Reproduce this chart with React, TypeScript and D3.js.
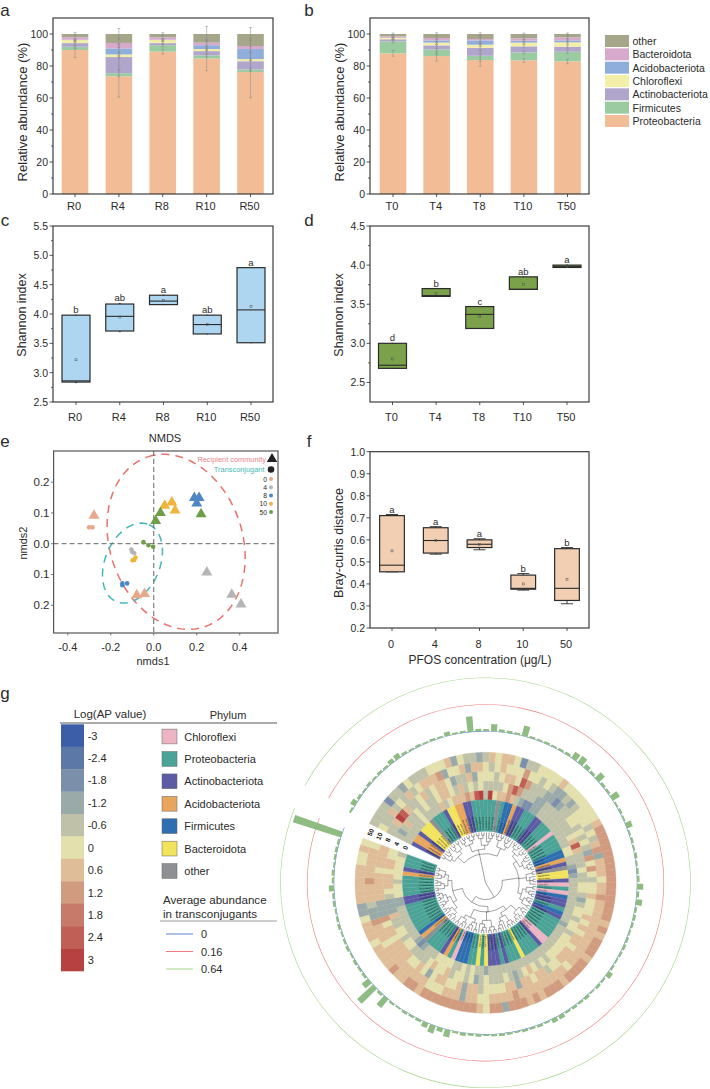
import React from "react";
import * as d3 from "d3";

const FONT = "'Liberation Sans', Arial, sans-serif";
const INK = "#2b2b2b";

// a, b: stacked composition
const phylaStack = ["Proteobacteria", "Firmicutes", "Actinobacteriota", "Chloroflexi", "Acidobacteriota", "Bacteroidota", "other"];
const stackColors = ["#f2bd96", "#9bcba0", "#b0a5cb", "#f4efa6", "#90aedb", "#d7aacd", "#a5a68a"];

const groupsR = ["R0", "R4", "R8", "R10", "R50"];
const proteoR = [90, 73.6, 89, 84.7, 76.2];
const firmiR = [2, 1.9, 4, 1.9, 1.6];
const actinoR = [2.3, 10.1, 1.3, 2.7, 5.2];
const chloroR = [1.9, 1.6, 1.9, 1.3, 1.3];
const acidoR = [0.2, 3.8, 0.2, 2.4, 6.3];
const bacteR = [1.6, 3.4, 1.5, 1.6, 1.9];
const otherR = [2, 5.6, 2.1, 5.4, 7.5];
const errR = [
  [4.7, 13, 1.5, 7.7, 16],
  [1, 2, 1, 1, 1],
  [1.5, 8, 1, 1.5, 5.5],
  [0.8, 1.6, 0.8, 1, 0.8],
  [0.5, 3, 0.5, 3, 7],
  [1.5, 3, 1, 2, 4],
  [1, 3.4, 0.8, 4.8, 4],
];

const groupsT = ["T0", "T4", "T8", "T10", "T50"];
const proteoT = [87.9, 86.2, 83.7, 83.5, 82.9];
const firmiT = [7.5, 4.2, 2.7, 5, 6];
const actinoT = [1.3, 2.5, 5, 3.8, 3.2];
const chloroT = [0.8, 1.7, 1.9, 2.3, 2.7];
const acidoT = [0.2, 1.4, 2.7, 1.2, 1.2];
const bacteT = [0.8, 1.5, 0.9, 1.5, 1.9];
const otherT = [1.5, 2.5, 3.1, 2.7, 2.1];
const errT = [
  [1.8, 3, 3.8, 1.2, 1.5],
  [1, 3, 3.5, 1, 1],
  [1, 2, 2, 1, 1],
  [0.8, 1, 1, 0.8, 1],
  [1, 1, 2, 1, 1],
  [1, 1, 2, 1, 1],
  [0.6, 0.8, 0.8, 0.6, 0.6],
];

// c, d, f: boxes as [low whisker, q1, median, q3, high whisker, mean]
const shannonR = [
  [2.83, 2.84, 2.86, 3.98, 3.98, 3.22],
  [3.7, 3.71, 3.96, 4.17, 4.18, 3.95],
  [4.16, 4.16, 4.22, 4.32, 4.32, 4.23],
  [3.66, 3.66, 3.82, 3.98, 3.98, 3.82],
  [3.51, 3.51, 4.07, 4.79, 4.79, 4.13],
];
const shannonRLetters = ["b", "ab", "a", "ab", "a"];
const shannonT = [
  [2.68, 2.68, 2.72, 3.0, 3.0, 2.8],
  [3.6, 3.6, 3.61, 3.7, 3.7, 3.64],
  [3.19, 3.19, 3.37, 3.47, 3.47, 3.34],
  [3.69, 3.69, 3.69, 3.85, 3.85, 3.75],
  [3.97, 3.97, 3.98, 4.0, 4.0, 3.98],
];
const shannonTLetters = ["d", "b", "c", "ab", "a"];
const concLabels = ["0", "4", "8", "10", "50"];
const brayCurtis = [
  [0.455, 0.455, 0.485, 0.71, 0.715, 0.55],
  [0.535, 0.54, 0.597, 0.655, 0.66, 0.597],
  [0.555, 0.565, 0.58, 0.6, 0.605, 0.578],
  [0.372, 0.376, 0.38, 0.44, 0.447, 0.4],
  [0.31, 0.325, 0.38, 0.56, 0.565, 0.42],
];
const brayLetters = ["a", "a", "a", "b", "b"];

// e: NMDS scores
const concColors = ["#e8a88c", "#b5b5b5", "#4f86c6", "#f0b43c", "#6f9e4a"];
const recipient = [
  [[-0.278, 0.091], [-0.079, -0.167], [-0.043, -0.163]],
  [[0.247, -0.093], [0.363, -0.165], [0.406, -0.197]],
  [[0.189, 0.149], [0.211, 0.149], [0.2, 0.131]],
  [[0.051, 0.124], [0.084, 0.134], [0.099, 0.108]],
  [[0.009, 0.074], [0.031, 0.1], [0.22, 0.096]],
];
const transconj = [
  [[-0.301, 0.053], [-0.285, 0.053]],
  [[-0.104, -0.019], [-0.101, -0.026], [-0.091, -0.031]],
  [[-0.146, -0.135], [-0.124, -0.129], [-0.146, -0.129]],
  [[-0.099, -0.054], [-0.091, -0.053], [-0.085, -0.045]],
  [[-0.048, 0.005], [-0.025, -0.005], [-0.003, -0.01]],
];
// centre, then the two axis vectors of each ellipse, in nmds units
const redEllipse = [0.104, 0.006, -0.132, 0.276, 0.293, 0.068];
const tealEllipse = [-0.099, -0.063, 0.076, 0.125, 0.117, -0.035];

// g: circular heatmap
const logSteps = [-3, -2.4, -1.8, -1.2, -0.6, 0, 0.6, 1.2, 1.8, 2.4, 3];
const logColors = ["#3c5ea9", "#5c78a6", "#7b8fab", "#9aaaa9", "#bfc2a9", "#e3e0ae", "#dfbd98", "#d09b7e", "#c87a6a", "#bf5f55", "#b74140"];
const phylumNames = ["Chloroflexi", "Proteobacteria", "Actinobacteriota", "Acidobacteriota", "Firmicutes", "Bacteroidota", "other"];
const phylumColors = ["#edb4c4", "#4aa396", "#5b5ba6", "#e8a55c", "#2f6fb1", "#f2e35c", "#8f9094"];
const phylumCodes = ["C", "T", "A", "O", "F", "Y", "G"];
const leafPhyla =
  "AOOAYYYGTTTAYYOOAA" + "TTTTTT" + "GTFFOAATTTAATTT" + "C" + "TTTTFFOAGYYACTCFAATFA" + "TTTTTCCATTTT" +
  "YTTTATAAAYTYTTFFFCTOATTTTGOFTTTTTTTAATTTTTOATTT";

// colour steps of the log(AP) scale, -5 (blue) to 5 (red), one list per ring, clockwise from the gap
const ring0 = [
  -1, -1, -1, -1, -1, -1, 0, -1, -1, -1,
  -1, 1, -1, 0, 1, 1, 1, 2, 1, 4,
  5, -1, 5, 0, 1, 1, 2, 1, -1, -2,
  -3, -3, -2, -2, -1, -1, -1, -1, -1, -1,
  -1, -1, -1, -1, 0, 0, -1, -1, -2, -3,
  -2, -1, -1, -1, -1, -1, -1, -1, -1, -1,
  -1, -2, -1, -1, -1, -1, -1, -1, -1, -1,
  -1, -1, -1, -1, -1, -1, -1, -1, -1, -1,
  -1, -1, -2, -1, -1, 0, -1, 0, -1, -1,
  0, 0, 0, 0, -1, -1, -1, -2, -3, -2,
  -1, -1, -1, -1, -1, -1, -1, -1, -2, -2,
  0, 0, 0, -1, 0, 0, 0, 0, 0, -1,
];
const ring4 = [
  -1, -2, -1, 1, -1, -1, 0, -1, 0, -1,
  -1, 0, 1, 1, 0, -1, 1, -1, 0, -1,
  0, -1, -1, -1, -1, 0, 2, 4, 2, -1,
  -1, -1, -2, -2, -1, -1, -1, -1, -1, -1,
  -1, -1, 0, 1, 4, 1, -1, -1, -1, 0,
  -1, -1, 0, 0, -1, -2, -1, 0, 0, -1,
  0, 0, -1, 0, 0, 0, 0, 0, 0, -1,
  0, -1, 0, 1, 0, -1, -2, -1, 0, -1,
  -1, -1, 0, -1, -2, 0, -1, 0, 0, -1,
  1, 0, 0, 1, 0, -1, -1, -1, -1, 0,
  0, -1, 0, 0, -1, -1, 1, -2, -2, -2,
  -1, 0, 1, 1, 1, 0, 1, 1, 0, 0,
];
const ring8 = [
  -1, -1, 1, 5, 4, 1, -1, -1, 0, 1,
  -1, 0, 1, 1, 0, -2, -1, -1, 1, -2,
  0, 0, 0, -1, 0, 1, 1, 0, 4, 2,
  -1, -1, -1, -2, -2, -3, -2, -1, -1, 0,
  0, -1, 0, -1, 0, -1, -2, 2, 0, 2,
  0, -1, 0, 0, 1, 0, 0, 0, 1, 0,
  1, 0, 1, 1, 0, 1, 1, 1, 0, 0,
  -1, 1, 1, 0, 1, 1, -2, 1, 1, 0,
  0, 0, 0, -1, 1, 1, -2, 1, 0, 0,
  1, 1, 0, -2, 0, 1, 0, 0, 1, 1,
  1, 1, 0, 1, 1, 0, 2, -2, -2, -2,
  1, 1, 1, 1, 1, 0, 1, 1, 1, 1,
];
const ring10 = [
  0, -1, -1, 1, -1, 0, -1, 1, -1, 0,
  1, 1, 1, 2, -2, 0, 0, 1, -2, 1,
  1, 0, -1, 0, 1, 0, 0, 0, 2, 0,
  0, -1, 0, -1, -2, -2, -1, -2, -1, 0,
  0, 0, -1, 0, -1, 1, 2, -2, 1, 1,
  1, 0, 1, 1, 2, 1, 1, 1, 1, 1,
  1, 1, 1, 1, 1, 1, 1, 0, 1, 1,
  1, 1, 1, 1, 1, 1, 1, 2, 1, 1,
  1, 1, 0, 0, 1, 1, -2, 1, 1, 1,
  0, 0, 0, 1, 1, 1, 1, 1, 1, 1,
  1, 1, 0, 1, 1, 1, 2, -2, -2, -1,
  1, 1, 1, 2, 1, 1, 1, 1, 1, 0,
];
const ring50 = [
  -1, -1, -1, -1, -3, -1, -1, -2, 0, -1,
  -1, -1, 0, 0, 0, 1, -2, 0, -1, -1,
  -2, -1, 1, 0, 1, 1, 0, -3, -1, -1,
  0, 0, 0, 0, 1, 0, 0, 0, 0, 0,
  0, 0, 1, 2, 2, 2, 2, 2, 2, 2,
  2, 2, 2, 2, 2, 2, 2, 2, 1, 2,
  1, 2, 2, 2, 1, 2, 2, 2, 2, 1,
  2, 2, 2, 1, 2, 1, 2, 2, 2, -2,
  2, 2, 0, 1, 2, 2, 2, 2, 2, 2,
  2, 2, 2, 1, 2, 2, 1, 1, 2, 1,
  1, 1, 1, 0, 1, 1, 1, 0, -2, -2,
  1, 1, 1, 1, 1, 1, 0, 0, 1, 0,
];
const heatRings = [ring0, ring4, ring8, ring10, ring50];
const ringLabels = ["0", "4", "8", "10", "50"];

// average abundance in transconjugants per leaf
const abundance = [
  0.001, 0.006, 0.0014, 0.0006, 0.0014, 0.0006, 0.0014, 0.001, 0.004, 0.006,
  0.0014, 0.0006, 0.001, 0.0006, 0.001, 0.0006, 0.004, 0.0006, 0.001, 0.053,
  0.0014, 0.001, 0.012, 0.0014, 0.001, 0.0006, 0.024, 0.001, 0.0006, 0.001,
  0.0006, 0.001, 0.0014, 0.012, 0.015, 0.004, 0.0014, 0.015, 0.0014, 0.001,
  0.015, 0.0006, 0.001, 0.0006, 0.0085, 0.0006, 0.001, 0.0006, 0.0014, 0.0006,
  0.001, 0.0014, 0.0085, 0.0014, 0.0085, 0.001, 0.0014, 0.001, 0.0006, 0.001,
  0.0014, 0.001, 0.0006, 0.001, 0.006, 0.001, 0.0014, 0.0006, 0.0014, 0.001,
  0.0014, 0.001, 0.004, 0.004, 0.0006, 0.0014, 0.001, 0.0014, 0.0006, 0.001,
  0.0014, 0.001, 0.0006, 0.0014, 0.001, 0.002, 0.001, 0.012, 0.004, 0.015,
  0.006, 0.0014, 0.001, 0.0014, 0.0006, 0.001, 0.029, 0.0014, 0.104, 0.015,
  0.0014, 0.001, 0.0014, 0.0006, 0.0014, 0.001, 0.0006, 0.0014, 0.001, 0.0006,
  0.0014, 0.001, 0.006, 0.001, 0.0014, 0.0006, 0.001, 0.0014, 0.001, 0.57,
];
const abundanceLines = [0, 0.16, 0.64];
const abundanceColors = ["#5b84c9", "#ee7a7a", "#a5d58a"];

// tree topology, one dot per leaf
const c1 = "(((..)(..))((.(..)).))";
const c2 = "(((..)(.(..)))((.(..))(..)))";
const c3 = "((((..)(..))(.(..)))(((..).)((..)(..))))";
const c4 = "((..)(.(..).))";
const c5 = "(((.(..))((..)(..)))(((..)(..))(.(.(..)))))";
const treeText = `((${c2}${c5}${c1})((${c3}${c4}${c2})((${c5}${c1}${c2})(${c3}${c2}))))`;

function parseTree(s: string) {
  const top: any = { children: [] };
  const stack = [top];
  for (const ch of s) {
    const cur = stack[stack.length - 1];
    if (ch === "(") {
      const n = { children: [] };
      cur.children.push(n);
      stack.push(n);
    } else if (ch === ")") {
      stack.pop();
    } else {
      cur.children.push({});
    }
  }
  return top.children[0];
}

const Label = ({ x, y, size = 11, anchor = "middle", weight = 400, fill = INK, rotate, children }: any) => (
  <text
    x={x}
    y={y}
    fontSize={size}
    fontWeight={weight}
    fill={fill}
    textAnchor={anchor}
    dominantBaseline="central"
    transform={rotate !== undefined ? `rotate(${rotate} ${x} ${y})` : undefined}
  >
    {children}
  </text>
);

function YAxis({ scale, left, major, minor = [], fmt }: any) {
  return (
    <g>
      {minor.map((t: number) => (
        <line key={t} x1={left - 2} x2={left} y1={scale(t)} y2={scale(t)} stroke={INK} strokeWidth={0.7} />
      ))}
      {major.map((t: number) => (
        <g key={t}>
          <line x1={left - 3.5} x2={left} y1={scale(t)} y2={scale(t)} stroke={INK} strokeWidth={0.8} />
          <Label x={left - 5} y={scale(t)} anchor="end" size={10.5}>
            {fmt ? fmt(t) : t}
          </Label>
        </g>
      ))}
    </g>
  );
}

function XAxis({ scale, bottom, labels, labelY }: any) {
  return (
    <g>
      {labels.map((t: string) => (
        <g key={t}>
          <line x1={scale(t)} x2={scale(t)} y1={bottom} y2={bottom + 3} stroke={INK} strokeWidth={0.8} />
          <Label x={scale(t) - 1} y={labelY} size={11}>
            {t}
          </Label>
        </g>
      ))}
    </g>
  );
}

function StackPanel({ series, errs, groups, left, right, cx0, cx1, yTitleX }: any) {
  const y = d3.scaleLinear().domain([0, 110]).range([194, 18]);
  const x = d3.scalePoint<string>().domain(groups).range([cx0, cx1]);
  const rows = groups.map((g: string, i: number) => {
    const r: any = { g };
    phylaStack.forEach((p, k) => (r[p] = series[k][i]));
    return r;
  });
  const layers = d3.stack<any>().keys(phylaStack)(rows);
  const w = 26.6;
  return (
    <g>
      {layers.map((layer, k) =>
        layer.map((d: any, i: number) => (
          <rect
            key={`${k}-${i}`}
            x={x(groups[i])! - w / 2}
            y={y(d[1])}
            width={w}
            height={y(d[0]) - y(d[1])}
            fill={stackColors[k]}
          />
        ))
      )}
      {layers.map((layer, k) =>
        layer.map((d: any, i: number) => {
          const cx = x(groups[i])!;
          const hi = y(d[1] + errs[k][i]);
          const lo = y(d[1] - errs[k][i]);
          return (
            <g key={`${k}-${i}`} stroke="#8d8d8d" strokeWidth={0.55}>
              <line x1={cx} x2={cx} y1={hi} y2={lo} />
              <line x1={cx - 1.5} x2={cx + 1.5} y1={hi} y2={hi} />
              <line x1={cx - 1.5} x2={cx + 1.5} y1={lo} y2={lo} />
            </g>
          );
        })
      )}
      <rect x={left} y={18} width={right - left} height={176} fill="none" stroke={INK} strokeWidth={1.1} />
      <YAxis scale={y} left={left} major={d3.range(0, 101, 20)} minor={d3.range(10, 110, 20)} />
      <XAxis scale={x} bottom={194} labels={groups} labelY={206} />
      <Label x={yTitleX} y={112} size={13} rotate={-90}>
        Relative abundance (%)
      </Label>
    </g>
  );
}

function BoxPanel({ boxes, letters, groups, left, right, top, bottom, domain, major, minor, fill, cx0, cx1, boxW, capW, labelY, title, titleX, titleY, fmt }: any) {
  const y = d3.scaleLinear().domain(domain).range([bottom, top]);
  const x = d3.scalePoint<string>().domain(groups).range([cx0, cx1]);
  return (
    <g>
      {boxes.map((b: number[], i: number) => {
        const cx = x(groups[i])!;
        const [lo, q1, med, q3, hi, mean] = b;
        return (
          <g key={i}>
            <line x1={cx} x2={cx} y1={y(hi)} y2={y(lo)} stroke={INK} strokeWidth={0.9} />
            <line x1={cx - capW} x2={cx + capW} y1={y(hi)} y2={y(hi)} stroke={INK} strokeWidth={0.9} />
            <line x1={cx - capW} x2={cx + capW} y1={y(lo)} y2={y(lo)} stroke={INK} strokeWidth={0.9} />
            <rect x={cx - boxW / 2} y={y(q3)} width={boxW} height={y(q1) - y(q3)} fill={fill} stroke={INK} strokeWidth={1.2} />
            <line x1={cx - boxW / 2} x2={cx + boxW / 2} y1={y(med)} y2={y(med)} stroke={INK} strokeWidth={1.1} />
            <rect x={cx - 1} y={y(mean) - 1} width={2} height={2} fill="none" stroke="#555" strokeWidth={0.5} />
            <Label x={cx} y={y(hi) - 5.5} size={9.5}>
              {letters[i]}
            </Label>
          </g>
        );
      })}
      <rect x={left} y={top} width={right - left} height={bottom - top} fill="none" stroke={INK} strokeWidth={1.1} />
      <YAxis scale={y} left={left} major={major} minor={minor} fmt={fmt} />
      <XAxis scale={x} bottom={bottom} labels={groups} labelY={labelY} />
      <Label x={titleX} y={titleY} size={12.5} rotate={-90}>
        {title}
      </Label>
    </g>
  );
}

function NmdsPanel() {
  const x = d3.scaleLinear().domain([-0.466, 0.578]).range([53.6, 278]);
  const y = d3.scaleLinear().domain([-0.29, 0.301]).range([633, 451]);
  const tri = d3.symbol().type(d3.symbolTriangle).size(52);
  const triLegend = d3.symbol().type(d3.symbolTriangle).size(48);
  const ellipsePath = (e: number[]) => {
    const pts = d3.range(0, 361, 4).map((deg) => {
      const t = (deg * Math.PI) / 180;
      return [e[0] + e[2] * Math.cos(t) + e[4] * Math.sin(t), e[1] + e[3] * Math.cos(t) + e[5] * Math.sin(t)] as [number, number];
    });
    return d3.line().x((p) => x(p[0])).y((p) => y(p[1]))(pts)!;
  };
  const legendY = d3.scalePoint<string>().domain(concLabels).range([479, 512]);
  return (
    <g>
      <path d={ellipsePath(redEllipse)} fill="none" stroke="#e8726d" strokeWidth={1.5} strokeDasharray="8 6" />
      <path d={ellipsePath(tealEllipse)} fill="none" stroke="#45b7b7" strokeWidth={1.5} strokeDasharray="8 6" />
      <line x1={x(0)} x2={x(0)} y1={451} y2={633} stroke="#666" strokeWidth={1} strokeDasharray="5 3" />
      <line x1={53.6} x2={278} y1={y(0)} y2={y(0)} stroke="#666" strokeWidth={1} strokeDasharray="5 3" />
      {recipient.map((pts, k) =>
        pts.map((p, i) => (
          <path key={`${k}-${i}`} d={tri()!} transform={`translate(${x(p[0])},${y(p[1])})`} fill={concColors[k]} />
        ))
      )}
      {transconj.map((pts, k) =>
        pts.map((p, i) => <circle key={`${k}-${i}`} cx={x(p[0])} cy={y(p[1])} r={2.3} fill={concColors[k]} />)
      )}
      <rect x={53.6} y={451} width={224.4} height={182} fill="none" stroke="#555" strokeWidth={1.2} />
      {[-0.4, -0.2, 0, 0.2, 0.4].map((t) => (
        <g key={t}>
          <line x1={x(t)} x2={x(t)} y1={633} y2={635.5} stroke="#555" strokeWidth={0.8} />
          <Label x={x(t)} y={647} size={11}>
            {t.toFixed(1)}
          </Label>
        </g>
      ))}
      {[-0.2, -0.1, 0, 0.1, 0.2].map((t) => (
        <g key={t}>
          <line x1={51} x2={53.6} y1={y(t)} y2={y(t)} stroke="#555" strokeWidth={0.8} />
          <Label x={49.5} y={y(t)} anchor="end" size={11.5}>
            {Math.abs(t).toFixed(1)}
          </Label>
        </g>
      ))}
      <Label x={165} y={438} size={11}>NMDS</Label>
      <Label x={153} y={661} size={11}>nmds1</Label>
      <Label x={22.7} y={543} size={11} rotate={-90}>nmds2</Label>
      <Label x={266} y={459.5} size={7.4} anchor="end" fill="#e8848a">Recipient community</Label>
      <path d={triLegend()!} transform={`translate(272,459)`} fill="#222" />
      <Label x={264.5} y={469.5} size={7.4} anchor="end" fill="#45b7b7">Transconjugant</Label>
      <circle cx={271} cy={469.5} r={3.3} fill="#222" />
      {concLabels.map((c, k) => (
        <g key={c}>
          <Label x={267} y={legendY(c)} size={6.8} anchor="end">{c}</Label>
          <circle cx={271} cy={legendY(c)} r={2} fill={concColors[k]} />
        </g>
      ))}
    </g>
  );
}

function CircularPanel() {
  const cx = 485.5;
  const cy = 882.8;
  const n = leafPhyla.length;
  const angle = d3.scaleBand<number>().domain(d3.range(n)).range([-63, 290]);
  const rad = (deg: number) => (deg * Math.PI) / 180;
  const ringR = d3.scaleBand<string>().domain(ringLabels).range([83, 130.5]);
  const logColor = d3.scaleQuantize<string>().domain([-3.3, 3.3]).range(logColors);
  const arc = d3.arc();
  const bw = angle.bandwidth();
  const barR = d3.scaleSqrt().domain([0, 0.64]).range([151.6, 205]);

  const root = d3.hierarchy(parseTree(treeText));
  d3.cluster().size([n - 1, 1]).separation(() => 1)(root);
  const treeR = d3.scalePow().exponent(0.5).domain([0, 1]).range([0, 50.5]);
  const treeA = (v: number) => rad(angle(0)! + bw / 2 + v * angle.step() - 90);
  const links = root.links().map((l: any) => {
    const p = d3.path();
    const r0 = treeR(l.source.y);
    const a0 = treeA(l.source.x);
    const a1 = treeA(l.target.x);
    p.moveTo(r0 * Math.cos(a0), r0 * Math.sin(a0));
    p.arc(0, 0, r0, a0, a1, a1 < a0);
    const r1 = treeR(l.target.y);
    p.lineTo(r1 * Math.cos(a1), r1 * Math.sin(a1));
    return p.toString();
  });

  return (
    <g transform={`translate(${cx},${cy})`}>
      {abundanceLines.map((v, k) => (
        <path
          key={v}
          d={arc({ innerRadius: barR(v) - 0.3, outerRadius: barR(v) + 0.3, startAngle: rad(-61.6), endAngle: rad(291.3) })!}
          fill={abundanceColors[k]}
        />
      ))}
      {abundance.map((v, i) => (
        <path
          key={i}
          d={arc({
            innerRadius: barR(0),
            outerRadius: barR(v),
            startAngle: rad(angle(i)! + bw * 0.12),
            endAngle: rad(angle(i)! + bw * 0.88),
          })!}
          fill="#8fbc82"
        />
      ))}
      {heatRings.map((ring, k) =>
        ring.map((step, i) => (
          <path
            key={`${k}-${i}`}
            d={arc({
              innerRadius: ringR(ringLabels[k])!,
              outerRadius: ringR(ringLabels[k])! + ringR.bandwidth(),
              startAngle: rad(angle(i)!),
              endAngle: rad(angle(i)! + bw),
            })!}
            fill={logColor(step * 0.6)}
            stroke={logColor(step * 0.6)}
            strokeWidth={0.35}
          />
        ))
      )}
      {Array.from(leafPhyla).map((code, i) => (
        <path
          key={i}
          d={arc({ innerRadius: 51.5, outerRadius: 83, startAngle: rad(angle(i)!), endAngle: rad(angle(i)! + bw) })!}
          fill={phylumColors[phylumCodes.indexOf(code)]}
          stroke={phylumColors[phylumCodes.indexOf(code)]}
          strokeWidth={0.3}
        />
      ))}
      {Array.from(leafPhyla).map((code, i) => {
        const a = angle(i)! + bw / 2;
        const flip = a > 180;
        return (
          <text
            key={i}
            transform={`rotate(${a - 90}) translate(53,0)${flip ? " rotate(180)" : ""}`}
            fontSize={2}
            fill="#000"
            textAnchor={flip ? "end" : "start"}
            dominantBaseline="central"
          >
            {phylumNames[phylumCodes.indexOf(code)]}
          </text>
        );
      })}
      <g fill="none" stroke="#111" strokeWidth={0.4}>
        {links.map((d, i) => (
          <path key={i} d={d} />
        ))}
      </g>
      {ringLabels.map((label) => {
        const r = ringR(label)! + ringR.bandwidth() / 2;
        return (
          <text
            key={label}
            transform={`rotate(-66.3) translate(0,${-r})`}
            fontSize={6.5}
            fontWeight={700}
            fill="#111"
            textAnchor="middle"
            dominantBaseline="central"
          >
            {label}
          </text>
        );
      })}
    </g>
  );
}

function LegendG() {
  const logY = d3.scaleBand<number>().domain(logSteps).range([724.3, 971]);
  const phyY = d3.scalePoint<string>().domain(phylumNames).range([736.5, 871]);
  const lineY = d3.scalePoint<string>().domain(abundanceLines.map(String)).range([934, 969]);
  return (
    <g>
      <Label x={110} y={714} size={11.5}>Log(AP value)</Label>
      <Label x={228} y={715} size={11} weight={500}>Phylum</Label>
      <line x1={60} x2={277} y1={723} y2={723} stroke={INK} strokeWidth={0.8} />
      {logSteps.map((s) => (
        <g key={s}>
          <rect x={61} y={logY(s)} width={23} height={logY.bandwidth() + 0.3} fill={logColors[logSteps.indexOf(s)]} />
          <Label x={87.7} y={logY(s)! + logY.bandwidth() / 2} size={11} anchor="start">{s}</Label>
        </g>
      ))}
      {phylumNames.map((p, k) => (
        <g key={p}>
          <rect x={162} y={phyY(p)! - 7.4} width={15} height={14.8} fill={phylumColors[k]} stroke="#666" strokeWidth={0.5} />
          <Label x={184.3} y={phyY(p)} size={11} anchor="start">{p}</Label>
        </g>
      ))}
      <Label x={163} y={899} size={11.6} anchor="start">Average abundance</Label>
      <Label x={163} y={913} size={11.6} anchor="start">in transconjugants</Label>
      <line x1={160} x2={277} y1={921} y2={921} stroke="#777" strokeWidth={0.7} />
      {abundanceLines.map((v, k) => (
        <g key={v}>
          <line x1={166} x2={193} y1={lineY(String(v))} y2={lineY(String(v))} stroke={abundanceColors[k]} strokeWidth={1} />
          <Label x={201} y={lineY(String(v))} size={11} anchor="start">{v}</Label>
        </g>
      ))}
    </g>
  );
}

export default function App() {
  const legendY = d3.scalePoint<string>().domain([...phylaStack].reverse()).range([41, 121]);
  return (
    <svg
      width={710}
      height={1089}
      viewBox="0 0 710 1089"
      style={{ position: "absolute", left: 0, top: 0, fontFamily: FONT, background: "#fff" }}
    >
      {[["a", 5, 10.5], ["b", 309, 10.5], ["c", 5, 220], ["d", 309, 220], ["e", 5, 441], ["f", 309, 441], ["g", 5, 693]].map(([t, x, y]) => (
        <Label key={t as string} x={x} y={y} size={17}>{t}</Label>
      ))}

      <StackPanel
        series={[proteoR, firmiR, actinoR, chloroR, acidoR, bacteR, otherR]}
        errs={errR}
        groups={groupsR}
        left={53}
        right={273}
        cx0={75}
        cx1={250.5}
        yTitleX={22}
      />
      <StackPanel
        series={[proteoT, firmiT, actinoT, chloroT, acidoT, bacteT, otherT]}
        errs={errT}
        groups={groupsT}
        left={370}
        right={589}
        cx0={393}
        cx1={567.5}
        yTitleX={339}
      />
      {phylaStack.map((p, k) => (
        <g key={p}>
          <rect x={605} y={legendY(p)! - 6} width={24} height={12} fill={stackColors[k]} />
          <Label x={632.5} y={legendY(p)} size={10.5} anchor="start">{p}</Label>
        </g>
      ))}

      <BoxPanel
        boxes={shannonR}
        letters={shannonRLetters}
        groups={groupsR}
        left={53}
        right={273}
        top={226}
        bottom={402}
        domain={[2.5, 5.5]}
        major={[2.5, 3, 3.5, 4, 4.5, 5, 5.5]}
        minor={[2.75, 3.25, 3.75, 4.25, 4.75, 5.25]}
        fill="#aed6f1"
        cx0={76}
        cx1={251}
        boxW={28}
        capW={1}
        labelY={417}
        title="Shannon index"
        titleX={22}
        titleY={315}
        fmt={(t: number) => t.toFixed(1)}
      />
      <BoxPanel
        boxes={shannonT}
        letters={shannonTLetters}
        groups={groupsT}
        left={370}
        right={589}
        top={226}
        bottom={402}
        domain={[2.25, 4.5]}
        major={[2.5, 3, 3.5, 4, 4.5]}
        minor={[2.75, 3.25, 3.75, 4.25]}
        fill="#7ba14a"
        cx0={392.5}
        cx1={567}
        boxW={28}
        capW={1}
        labelY={417}
        title="Shannon index"
        titleX={339}
        titleY={315}
        fmt={(t: number) => t.toFixed(1)}
      />
      <NmdsPanel />
      <BoxPanel
        boxes={brayCurtis}
        letters={brayLetters}
        groups={concLabels}
        left={370}
        right={589}
        top={451.7}
        bottom={628}
        domain={[0.2, 1]}
        major={d3.range(2, 11).map((v) => v / 10)}
        minor={[]}
        fill="#f2cfb3"
        cx0={392}
        cx1={567}
        boxW={24.7}
        capW={6}
        labelY={644}
        title="Bray-curtis distance"
        titleX={339}
        titleY={543}
        fmt={(t: number) => t.toFixed(1)}
      />
      <Label x={480} y={660} size={12}>PFOS concentration (μg/L)</Label>

      <LegendG />
      <CircularPanel />
    </svg>
  );
}
